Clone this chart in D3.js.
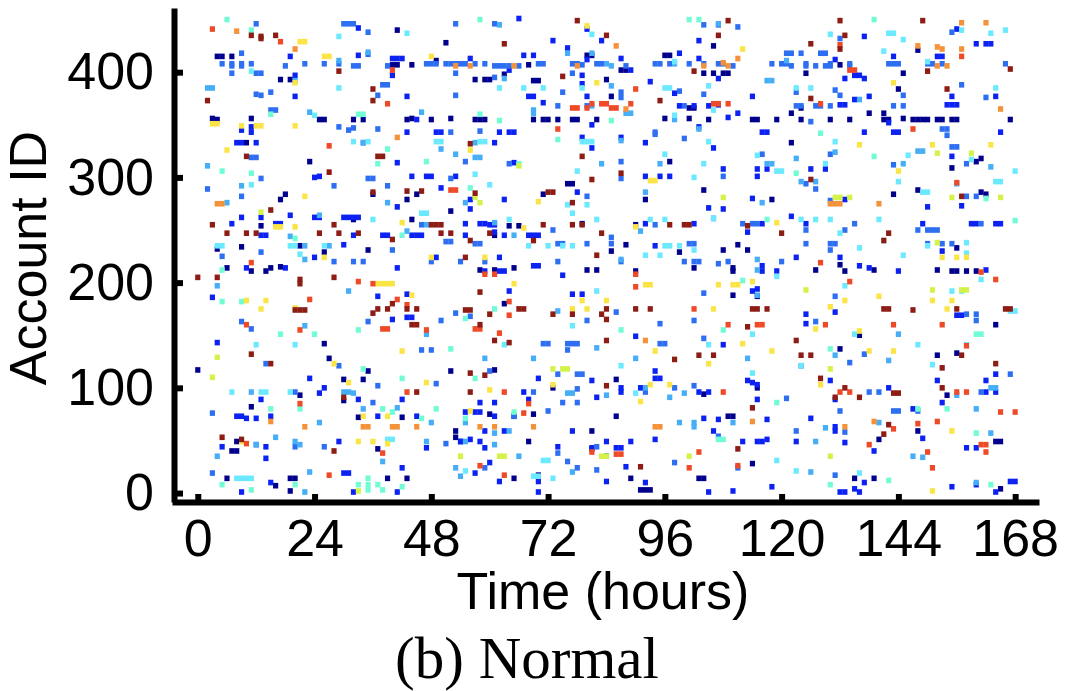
<!DOCTYPE html>
<html>
<head>
<meta charset="utf-8">
<script src="https://cdn.jsdelivr.net/npm/d3@7"></script>
<style>
  body { margin: 0; background: #fff; }
  .axis text { font-family: "Liberation Sans", Arial, Helvetica, sans-serif; font-size: 52px; fill: #000; }
  .axis path, .axis line { stroke: #000; stroke-width: 6; }
</style>
</head>
<body>
<script>
// tick values
const hourTicks = [0, 24, 48, 72, 96, 120, 144, 168];
const accountTicks = [0, 100, 200, 300, 400];

// activity level of each marker, low (dark blue) to high (dark red)
const levelNames = ["navy", "blue", "medium", "light", "cyan", "aqua", "lime", "yellow", "orange", "red", "darkred"];
const levelColors = ["#00008c", "#0b22f2", "#2e6ff2", "#45aef6", "#6ae9ff", "#72fcd6", "#d3f24a", "#fbe445", "#f4923a", "#ef4a28", "#8c1c14"];

// [hour, account id] per level
const navy = [[4,415],[5,415],[7,415],[17,393],[19,393],[3,356],[4,355],[11,356],[25,355],[26,355],[32,355],[34,355],[10,333],[23,315],[41,440],[51,428],[40,407],[41,407],[44,407],[49,411],[43,355],[44,356],[48,355],[52,356],
[68,407],[63,398],[57,393],[59,393],[60,393],[69,392],[70,392],[80,416],[81,416],[87,402],[88,402],[84,393],[85,377],[57,355],[58,355],[59,355],[69,355],[71,355],[72,355],[74,355],[77,355],[78,355],[82,355],[96,416],[97,416],[104,399],[106,399],[108,399],[109,399],[106,425],[96,356],[101,356],[105,355],[101,366],[102,366],[97,315],
[132,407],[145,399],[148,421],[144,384],[125,399],[124,366],[122,361],[138,361],[141,361],[114,355],[115,355],[119,355],[124,355],[130,355],[134,355],[141,355],[142,355],[145,356],[147,355],[148,355],[149,355],[150,355],[152,355],[153,355],[155,355],[156,355],[167,355],[122,333],[160,315],[161,318],[155,309],
[13,254],[18,284],[17,279],[36,284],[45,284],[43,279],[52,268],[32,260],[44,260],[4,232],[9,234],[6,214],[11,211],[14,211],[15,214],[17,215],[21,235],[26,229],[35,231],
[71,284],[76,294],[77,294],[92,279],[104,288],[64,254],[66,254],[61,245],[90,255],[79,256],[88,236],[85,230],[58,212],[61,212],[65,214],[80,212],[82,212],[90,211],[99,229],[102,214],[108,231],[111,236],[110,214],[110,211],[110,188],[63,180],
[118,279],[143,284],[148,288],[161,286],[162,284],[113,231],[156,233],[127,212],[132,217],[133,211],[139,212],[152,212],[155,211],[156,211],[158,211],[160,211],[115,187],[164,160],[136,150],
[26,142],[0,117],[27,128],[35,116],[30,108],[34,108],[52,116],[21,93],[30,88],[11,82],[33,72],[42,72],[8,49],[7,40],[8,40],[37,42],[53,59],[53,53],[6,14],[19,14],[20,14],[16,7],[19,2],[39,14],[43,14],
[61,117],[86,108],[104,94],[73,100],[60,75],[65,73],[69,75],[86,73],[81,59],[109,73],[110,73],[68,49],[81,42],[65,14],[70,17],[89,14],[91,3],[92,3],[93,3],[103,14],[104,14],
[132,137],[152,131],[156,133],[115,100],[154,93],[148,59],[140,51],[164,49],[165,49],[114,28],[135,14],[139,14],[165,4]];

const blue = [[19,415],[20,397],[20,377],[11,348],[9,345],[11,343],[8,333],[9,333],[12,333],[33,442],[33,416],[40,413],[41,413],[42,413],[40,397],[43,377],[45,355],[43,343],[49,343],[50,343],[41,314],
[66,451],[56,413],[67,416],[69,416],[64,402],[68,377],[69,377],[73,430],[76,423],[80,441],[83,430],[80,412],[87,413],[89,402],[79,397],[79,389],[80,377],[71,371],[81,350],[62,343],[64,343],[65,343],[79,338],[81,328],[87,338],[61,333],[65,314],[93,391],[92,333],[99,368],[102,368],[103,413],[103,430],[107,394],[107,369],[105,368],[109,357],[111,361],[103,348],[106,328],[108,308],[98,380],[99,418],
[137,434],[143,415],[156,441],[160,427],[162,427],[163,427],[152,415],[153,415],[131,412],[135,397],[136,397],[133,394],[137,394],[164,377],[155,377],[114,377],[135,374],[138,377],[132,369],[133,369],[154,369],[155,369],[156,369],[142,352],[116,343],[117,343],[137,343],[143,343],[144,343],[165,343],[155,320],[115,308],[117,308],[126,308],[129,308],
[24,300],[25,301],[41,272],[44,301],[47,301],[48,301],[50,290],[53,301],[9,262],[13,262],[7,256],[13,245],[14,245],[16,256],[17,256],[19,264],[24,262],[25,262],[30,262],[31,262],[32,262],[33,262],[32,245],[38,245],[39,245],[44,245],[45,245],[46,245],[10,214],[18,214],[24,224],[30,236],[41,214],[49,224],[3,186],[37,187],[43,189],[40,165],[43,167],[44,167],
[92,301],[95,301],[97,301],[78,286],[56,279],[63,279],[56,270],[105,271],[108,270],[55,256],[58,256],[59,256],[60,255],[61,255],[61,248],[63,245],[68,245],[69,245],[70,245],[55,245],[92,256],[102,256],[94,235],[62,224],[59,211],[62,211],[63,211],[69,216],[70,216],[75,207],[64,192],[77,189],[79,189],[90,149],
[115,301],[114,280],[150,272],[157,273],[122,263],[125,256],[116,256],[113,248],[149,256],[159,256],[160,256],[164,256],[165,256],[133,279],[153,230],[116,216],[116,211],[119,211],[123,224],[132,224],[136,216],[138,214],[144,211],[162,212],[114,192],[115,194],[131,172],[125,170],[125,161],[156,169],[157,169],
[4,143],[23,109],[25,95],[26,100],[13,89],[33,89],[42,89],[8,73],[9,73],[10,71],[12,71],[15,73],[37,73],[45,73],[29,49],[5,44],[14,44],[47,43],[54,49],[14,33],[42,24],[15,10],[9,1],[30,19],[31,19],[32,1],[41,1],
[70,109],[81,107],[87,100],[87,96],[91,100],[94,116],[94,109],[95,109],[103,96],[105,96],[113,107],[67,96],[68,89],[82,91],[58,86],[61,86],[55,77],[57,77],[58,77],[61,73],[59,59],[63,59],[77,59],[104,71],[107,70],[106,59],[112,49],[54,49],[56,51],[58,49],[59,43],[74,44],[81,43],[84,49],[86,43],[87,43],[84,35],[89,49],[94,51],[88,25],[60,29],[57,19],[62,11],[70,11],[70,1],[84,11],[92,10],[105,1],[110,2],[108,141],
[114,105],[115,103],[130,107],[142,100],[162,96],[164,96],[162,107],[164,113],[131,89],[115,89],[147,80],[153,86],[152,107],[117,70],[126,71],[131,63],[131,59],[149,52],[139,40],[160,43],[158,43],[115,49],[116,49],[117,51],[123,49],[133,48],[137,10],[118,6],[132,1],[133,1],[135,4],[136,1],[155,6],[160,8],[164,1],[167,11],[168,11]];

const medium = [[12,446],[9,418],[5,408],[7,408],[7,406],[9,408],[9,406],[11,408],[7,399],[12,399],[13,399],[18,406],[22,408],[12,379],[13,378],[15,381],[15,364],[16,364],[29,348],[31,345],[32,347],[29,408],[26,408],[32,406],[33,406],[30,446],[31,446],[32,446],[35,438],[35,417],[39,406],[38,388],[39,388],[37,378],[47,408],[48,408],[49,408],[51,408],[52,408],[53,408],[53,399],[53,378],[37,346],[52,343],[34,333],[11,319],[12,319],[53,446],
[61,446],[54,408],[55,408],[57,408],[59,408],[61,406],[62,406],[63,406],[64,406],[66,406],[70,408],[71,408],[61,395],[77,408],[78,408],[79,407],[82,408],[83,408],[88,406],[77,399],[87,381],[87,376],[75,381],[74,368],[80,368],[58,344],[55,315],[64,313],[87,315],[94,341],[94,343],[94,408],[95,408],[97,408],[101,408],[104,408],[104,445],[107,445],[111,443],[107,408],[108,408],[110,406],[104,379],[100,368],[99,382],[100,337],
[132,432],[155,438],[121,418],[122,418],[124,418],[128,418],[129,418],[118,408],[120,408],[121,408],[122,406],[125,408],[125,406],[127,406],[129,406],[130,406],[130,408],[134,408],[134,406],[142,408],[143,408],[144,408],[150,408],[151,408],[153,408],[166,408],[157,388],[162,376],[145,378],[123,381],[131,383],[132,378],[123,368],[124,368],[127,368],[128,368],[130,368],[143,368],[145,368],[126,353],[153,346],[154,346],[154,340],[155,329],[156,329],[116,322],[130,322],[143,312],[158,313],
[13,299],[2,289],[9,282],[13,229],[5,225],[28,220],[32,220],[34,220],[35,299],[36,299],[39,292],[28,292],[52,299],[40,231],[48,220],[46,255],[51,239],[52,239],[9,163],[11,156],[50,164],[53,171],[35,163],
[87,299],[108,301],[80,282],[106,261],[73,250],[85,243],[85,237],[57,237],[58,237],[74,237],[75,237],[80,237],[54,220],[59,220],[74,220],[87,220],[94,255],[101,237],[102,237],[100,220],[102,220],[103,220],[107,218],[109,220],[112,256],[104,190],[56,168],[80,164],[86,172],[95,161],[102,164],[104,147],
[125,294],[127,289],[130,278],[114,256],[115,256],[125,250],[133,250],[135,256],[148,250],[150,250],[151,250],[152,250],[161,256],[150,237],[153,237],[155,237],[158,282],[160,282],[125,237],[130,237],[131,237],[130,231],[120,220],[131,187],[158,170],[160,170],[160,164],[127,163],
[14,123],[29,121],[37,102],[46,136],[48,136],[49,104],[20,96],[36,86],[3,76],[12,46],[20,44],[26,44],[51,47],[3,19],
[71,142],[72,142],[76,142],[77,142],[78,142],[76,136],[95,142],[96,142],[60,116],[74,113],[78,113],[79,113],[92,96],[102,102],[98,100],[78,99],[69,96],[75,86],[78,86],[72,78],[65,73],[107,54],[74,38],[76,30],[78,24],[82,44],[82,22],[98,29],[111,24],[59,24],
[124,121],[134,124],[137,132],[138,96],[140,96],[161,96],[167,113],[121,90],[132,78],[143,78],[144,78],[148,78],[123,59],[133,58],[131,17]];

const light = [[20,392],[2,385],[3,385],[23,362],[29,411],[35,419],[46,362],[34,333],[50,327],[53,322],[2,311],
[62,445],[76,418],[63,394],[81,418],[81,368],[85,387],[88,361],[89,361],[69,364],[69,361],[84,408],[85,406],[57,333],[57,319],[58,319],[83,313],[87,335],[98,355],[98,408],[103,346],[95,313],[107,446],
[121,411],[117,392],[118,392],[136,374],[117,313],[118,313],[123,318],[131,324],[145,313],[148,325],[149,325],[163,310],
[9,292],[6,276],[39,276],[25,264],[43,249],[47,255],[19,244],[22,235],[27,235],[22,222],[4,197],[31,192],[22,159],[47,151],
[55,276],[92,286],[91,249],[61,257],[65,245],[87,222],[74,173],
[124,296],[127,296],[116,276],[156,294],[115,222],[115,212],[115,188],[144,151],
[11,96],[30,96],[31,96],[32,95],[34,80],[25,67],[41,81],[48,67],[12,46],[16,53],[20,49],[21,46],[4,35],[38,30],[47,49],[53,24],[23,20],[22,1],
[82,138],[59,128],[69,128],[90,128],[84,93],[92,100],[76,95],[77,95],[100,95],[97,91],[55,67],[61,57],[64,59],[99,67],[102,67],[102,63],[110,67],[61,46],[55,49],[66,35],[77,20],[54,16],
[131,131],[113,128],[142,126],[163,100],[164,100],[156,93],[160,80],[129,62],[140,67],[163,57],[127,49],[147,35],[149,34],[126,20],[160,10]];

const cyan = [[29,434],[43,437],[29,385],[11,401],[24,359],[32,334],[35,334],[49,334],[50,334],
[62,385],[67,385],[71,385],[79,385],[96,385],[97,385],[81,436],[79,334],[80,334],[81,334],[58,334],[59,334],[98,410],[98,359],[105,334],[104,313],[96,322],[57,303],[78,306],[106,364],[105,387],
[130,436],[142,437],[143,437],[145,431],[157,440],[163,437],[166,440],[141,420],[150,410],[123,385],[126,385],[164,385],[131,334],[115,321],[129,313],[146,321],[159,317],[119,306],[120,306],[168,306],
[11,293],[4,235],[5,235],[19,235],[20,235],[21,227],[26,235],[36,260],[46,266],[47,266],
[60,293],[76,274],[80,274],[77,266],[82,260],[64,260],[72,235],[68,235],[77,235],[75,235],[92,226],[93,260],[95,226],[96,260],[96,235],[97,235],[99,235],[102,231],[102,300],[106,261],[82,192],[77,159],
[144,296],[149,286],[150,286],[164,296],[165,296],[124,260],[127,260],[130,260],[132,247],[140,260],[136,233],[145,226],[150,235],[158,238],[158,228],[119,206],[133,197],[155,192],[157,192],[114,151],[135,151],[161,203],[167,173],[168,173],
[12,141],[20,141],[7,96],[13,96],[14,96],[19,96],[39,51],[40,51],[8,14],[9,14],[10,14],[11,14],
[63,141],[105,141],[87,121],[90,95],[71,31],[72,31],[55,21],[69,16],[70,16],[73,14],
[148,141],[158,141],[124,121],[151,122],[114,114],[119,31],[123,21],[136,19]];

const aqua = [[6,450],[11,440],[15,360],[33,360],[34,360],[39,327],[5,306],[11,304],[37,313],[47,315],
[58,450],[58,360],[62,354],[85,354],[74,336],[66,313],[101,450],[103,450],
[139,450],[128,342],[139,320],[123,304],
[20,242],[42,245],[5,212],[5,182],[9,182],[17,151],[24,151],[33,155],
[56,290],[61,175],[55,166],[87,155],[108,155],[112,202],
[117,260],[168,259],[162,280],[141,240],[160,151],[161,151],
[34,118],[42,109],[15,80],[21,80],[40,77],[38,80],[49,80],[46,71],[52,137],[5,8],[11,3],[20,8],[33,8],[35,14],[35,8],[35,3],[37,8],[38,3],[42,6],
[57,109],[65,77],[55,71],[107,51],[108,51],
[130,137],[119,86],[148,80],[154,80],[160,57],[142,12],[130,8],[163,8]];

const lime = [[66,311],[152,323],[159,323],[13,267],[57,281],[58,276],[108,281],[131,281],[132,281],[134,281],[155,281],[165,281],[152,238],[125,193],[151,193],[157,193],[158,193],[4,129],[3,110],[33,2],[73,118],[75,118],[76,118],[83,35],[84,35],[101,35],[54,35],[62,35],[63,35],[130,118],[130,35]];

const yellow = [[21,429],[22,429],[26,415],[27,415],[20,390],[3,351],[4,351],[9,349],[12,349],[13,349],[20,349],[6,326],[48,415],
[80,444],[82,390],[56,326],[112,422],
[143,390],[136,331],[151,331],[163,331],[144,306],
[22,282],[16,253],[17,253],[20,253],[42,257],[26,224],[48,224],[37,199],[38,199],[39,199],[40,199],[10,183],[14,183],[13,175],[20,176],[44,188],
[93,297],[94,297],[70,277],[67,252],[90,253],[59,224],[65,199],[92,198],[93,198],[107,198],[110,198],[111,198],[79,183],[84,183],[77,175],[80,175],[106,175],
[119,257],[153,224],[156,224],[158,224],[114,201],[133,183],[140,187],[151,183],[155,183],[154,175],[130,177],[127,156],[136,154],
[42,135],[47,105],[28,123],[31,105],[9,49],[34,73],[39,73],[33,49],[36,49],[39,47],
[94,135],[112,142],[105,123],[73,103],[93,103],[97,103],[91,87],[60,98],[56,78],
[118,135],[138,135],[143,135],[128,103],[155,59],[151,2]];

const orange = [[8,439],[20,422],[41,338],[53,406],
[56,406],[65,406],[78,406],[86,425],[88,365],[104,406],[108,409],[109,406],[111,413],
[148,425],[152,424],[153,422],[157,422],[157,447],[162,447],[152,406],[154,406],[165,365],
[4,275],[5,275],[130,275],[131,275],[132,275],[140,275],
[15,68],[22,63],[34,63],[35,63],[40,63],[41,63],[45,63],
[58,63],[61,63],[69,63],[94,63],[95,63],[92,145],
[114,68],[133,63],[139,68]];

const red = [[3,441],[17,429],[27,330],[40,402],[39,370],
[74,346],[77,366],[78,366],[80,366],[81,370],[83,370],[84,370],[85,366],[86,366],[89,370],[90,384],[106,370],[107,370],[109,370],
[132,426],[157,415],[134,402],[135,402],[128,370],[147,346],
[52,288],[53,288],[11,219],[33,201],[36,199],[23,184],[41,184],[43,179],[10,160],[21,155],[38,156],[39,156],[47,155],
[59,208],[61,208],[90,208],[64,182],[64,169],[57,156],[58,156],[62,152],[90,196],[102,175],[109,160],
[156,295],[128,219],[134,201],[161,210],[164,203],[129,160],[115,160],[116,160],[143,160],[153,160],
[43,96],[21,85],[10,47],[38,38],[27,17],
[108,96],[63,96],[68,85],[67,76],[81,39],[86,37],[87,37],[103,39],[101,24],[58,26],[63,17],[111,26],
[158,140],[132,96],[134,96],[156,96],[158,96],[165,77],[168,77],[143,61],[138,46],[148,66],[152,68],[150,39],[161,46],[162,46],[162,39],[151,24]];

const darkred = [[11,435],[13,434],[13,432],[16,435],[2,373],[10,320],[27,305],[29,401],[36,384],[36,373],[37,320],[38,320],
[63,427],[78,449],[84,435],[75,396],[95,373],[102,401],[56,332],[79,320],[87,304],[109,449],[107,435],
[132,449],[133,435],[149,449],[126,427],[132,422],[150,401],[167,403],[126,375],[154,384],
[15,269],[3,255],[6,247],[10,247],[12,247],[28,255],[29,247],[25,247],[33,247],[36,286],[43,287],[46,287],[40,241],[48,255],[49,255],[50,255],[50,247],[52,247],[0,205],[4,205],[21,203],[21,199],[28,205],[20,174],[21,174],[22,174],[40,180],[37,175],[36,171],[39,175],[43,175],[45,175],[44,160],[45,160],
[81,298],[57,285],[72,286],[73,286],[77,276],[60,247],[56,240],[69,240],[71,255],[77,255],[79,255],[83,247],[82,226],[97,255],[100,255],[101,255],[55,224],[58,191],[55,174],[56,174],[66,175],[67,175],[60,170],[58,160],[73,170],[77,170],[84,175],[83,170],[84,165],[90,175],[93,175],
[126,298],[157,282],[113,254],[120,247],[142,247],[141,240],[114,175],[115,175],[117,175],[156,175],[141,175],[142,175],[147,174],[166,175],[167,175],[113,158],
[11,132],[15,123],[45,96],[30,91],[5,53],[9,51],[28,40],
[61,145],[64,143],[84,145],[98,127],[103,131],[106,131],[56,114],[59,112],[84,102],[56,96],[91,25],[111,42],
[123,145],[124,131],[126,131],[153,119],[157,131],[164,123],[128,109],[133,100],[153,100],[136,91],[131,91],[143,95],[144,95],[114,81],[142,65],[141,56]];

const seriesByLevel = [navy, blue, medium, light, cyan, aqua, lime, yellow, orange, red, darkred];

const width = 1080;
const height = 691;

const svg = d3.select("body").append("svg")
  .attr("width", width)
  .attr("height", height);

const x = d3.scaleLinear().domain([-5.3, 172.9]).range([172, 1039]);
const y = d3.scaleLinear().domain([-8.5, 461]).range([502, 8]);
const color = d3.scaleOrdinal().domain(levelNames).range(levelColors);

// flatten into one list of marks
const points = [];
seriesByLevel.forEach((arr, i) => {
  arr.forEach(p => points.push({hour: p[0], account: p[1], level: levelNames[i]}));
});

const cellW = x(1) - x(0) + 0.3;
const cellH = 5.6;

svg.append("g")
  .selectAll("rect")
  .data(points)
  .join("rect")
  .attr("x", d => x(d.hour) - cellW / 2)
  .attr("y", d => y(d.account) - cellH / 2)
  .attr("width", cellW)
  .attr("height", cellH)
  .attr("fill", d => color(d.level));

const xAxis = d3.axisBottom(x)
  .tickValues(hourTicks)
  .tickSizeInner(-8)
  .tickSizeOuter(0)
  .tickPadding(17);

const yAxis = d3.axisLeft(y)
  .tickValues(accountTicks)
  .tickSizeInner(-9)
  .tickSizeOuter(0)
  .tickPadding(20);

svg.append("g")
  .attr("class", "axis")
  .attr("transform", `translate(0,${y(-8.5)})`)
  .call(xAxis);

svg.append("g")
  .attr("class", "axis")
  .attr("transform", `translate(174,0)`)
  .call(yAxis);

svg.selectAll(".axis .tick text").attr("fill", "#000");

// title sits a little lower so it clears the tick labels
svg.append("text")
  .attr("x", 603)
  .attr("y", 609)
  .attr("text-anchor", "middle")
  .style("font-family", '"Liberation Sans", Arial, Helvetica, sans-serif')
  .style("font-size", "52px")
  .text("Time (hours)");

svg.append("text")
  .attr("transform", "translate(46,258) rotate(-90)")
  .attr("text-anchor", "middle")
  .style("font-family", '"Liberation Sans", Arial, Helvetica, sans-serif')
  .style("font-size", "52px")
  .text("Account ID");

svg.append("text")
  .attr("x", 527)
  .attr("y", 678)
  .attr("text-anchor", "middle")
  .style("font-family", '"Liberation Serif", "Times New Roman", serif')
  .style("font-size", "59px")
  .text("(b) Normal");
</script>
</body>
</html>
